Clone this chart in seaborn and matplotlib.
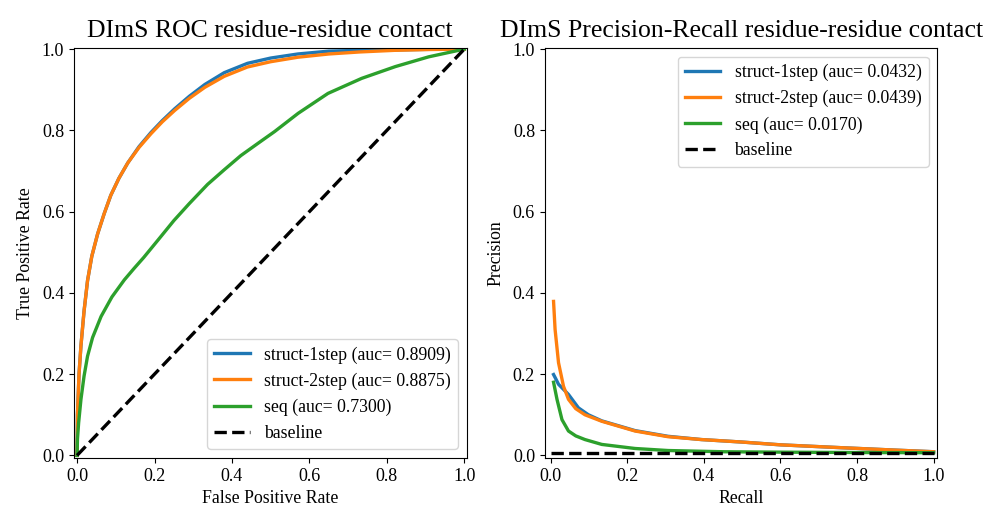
import matplotlib
matplotlib.use("Agg")
import matplotlib.pyplot as plt
import seaborn as sns
import pandas as pd

# ---- ROC data ----
roc_fpr_s1 = [0, 0.001, 0.005, 0.01, 0.018, 0.027, 0.038, 0.053, 0.07, 0.087, 0.108, 0.131, 0.16, 0.191, 0.22,
              0.252, 0.29, 0.33, 0.38, 0.44, 0.5, 0.57, 0.65, 0.73, 0.82, 0.91, 1.0]
roc_tpr_s1 = [0, 0.10, 0.20, 0.27, 0.355, 0.43, 0.49, 0.545, 0.595, 0.64, 0.682, 0.72, 0.76, 0.795, 0.824,
              0.853, 0.884, 0.913, 0.942, 0.965, 0.978, 0.988, 0.995, 0.997, 0.998, 0.9995, 1.0]
roc_fpr_s2 = [0, 0.001, 0.005, 0.01, 0.018, 0.027, 0.038, 0.053, 0.07, 0.087, 0.108, 0.131, 0.16, 0.191, 0.22,
              0.252, 0.29, 0.33, 0.38, 0.44, 0.5, 0.57, 0.65, 0.73, 0.82, 0.91, 1.0]
roc_tpr_s2 = [0, 0.10, 0.20, 0.27, 0.355, 0.43, 0.49, 0.545, 0.595, 0.64, 0.682, 0.72, 0.758, 0.792, 0.821,
              0.849, 0.879, 0.906, 0.933, 0.956, 0.969, 0.98, 0.988, 0.993, 0.997, 0.999, 1.0]
roc_fpr_seq = [0, 0.001, 0.004, 0.01, 0.018, 0.027, 0.04, 0.062, 0.09, 0.122, 0.147, 0.172, 0.209, 0.25, 0.29, 0.337,
               0.38, 0.423, 0.47, 0.51, 0.571, 0.648, 0.735, 0.822, 0.908, 1.0]
roc_tpr_seq = [0, 0.04, 0.08, 0.138, 0.195, 0.244, 0.29, 0.342, 0.39, 0.432, 0.46, 0.487, 0.53, 0.578, 0.62, 0.667,
               0.703, 0.738, 0.77, 0.797, 0.842, 0.891, 0.928, 0.957, 0.981, 1.0]
roc_base_x = [0, 1]
roc_base_y = [0, 1]

# ---- Precision-Recall data ----
pr_rec_s1 = [0.007, 0.012, 0.02, 0.046, 0.072, 0.098, 0.133, 0.22, 0.306, 0.393, 0.497, 0.6, 0.758, 0.9, 1.0]
pr_prec_s1 = [0.199, 0.19, 0.175, 0.15, 0.117, 0.10, 0.085, 0.061, 0.047, 0.039, 0.033, 0.026, 0.019, 0.013, 0.009]
pr_rec_s2 = [0.007, 0.011, 0.02, 0.033, 0.046, 0.065, 0.089, 0.133, 0.22, 0.306, 0.393, 0.497, 0.6, 0.758, 0.9, 1.0]
pr_prec_s2 = [0.379, 0.31, 0.228, 0.17, 0.138, 0.115, 0.10, 0.084, 0.06, 0.046, 0.039, 0.033, 0.026, 0.019, 0.013, 0.009]
pr_rec_seq = [0.007, 0.016, 0.029, 0.046, 0.065, 0.089, 0.133, 0.22, 0.306, 0.45, 0.6, 0.8, 1.0]
pr_prec_seq = [0.18, 0.138, 0.088, 0.06, 0.048, 0.039, 0.027, 0.017, 0.012, 0.009, 0.008, 0.007, 0.0066]
pr_base_x = [0, 1]
pr_base_y = [0.0066, 0.0066]

roc_labels = ["struct-1step (auc= 0.8909)", "struct-2step (auc= 0.8875)", "seq (auc= 0.7300)"]
pr_labels = ["struct-1step (auc= 0.0432)", "struct-2step (auc= 0.0439)", "seq (auc= 0.0170)"]
colors = ["#1f77b4", "#ff7f0e", "#2ca02c"]

plt.rcParams["font.family"] = ["Liberation Serif", "DejaVu Serif"]
plt.rcParams["mathtext.fontset"] = "stix"

fig, axes = plt.subplots(1, 2, figsize=(9.93, 5.15), dpi=100)
fig.subplots_adjust(left=0.0745, right=0.944, top=0.907, bottom=0.111, wspace=0.199)


def long_df(xs, ys, labels):
    frames = []
    for x, y, lab in zip(xs, ys, labels):
        frames.append(pd.DataFrame({"x": x, "y": y, "series": lab}))
    return pd.concat(frames, ignore_index=True)


roc_df = long_df([roc_fpr_s1, roc_fpr_s2, roc_fpr_seq], [roc_tpr_s1, roc_tpr_s2, roc_tpr_seq], roc_labels)
pr_df = long_df([pr_rec_s1, pr_rec_s2, pr_rec_seq], [pr_prec_s1, pr_prec_s2, pr_prec_seq], pr_labels)

LW = 2.4
FS = 12.8
TFS = 18.5

ax = axes[0]
sns.lineplot(data=roc_df, x="x", y="y", hue="series", palette=colors, sort=False,
             estimator=None, units="series", lw=LW, ax=ax)
ax.plot(roc_base_x, roc_base_y, "k--", lw=LW, label="baseline")
ax.set_xlim(-0.008, 1.006)
ax.set_ylim(-0.006, 1.003)
ax.set_xlabel("False Positive Rate", fontsize=FS)
ax.set_ylabel("True Positive Rate", fontsize=FS, labelpad=6)
ax.set_title("DImS ROC residue-residue contact", fontsize=TFS, pad=8)
ax.legend(loc="lower right", fontsize=FS)

ax = axes[1]
sns.lineplot(data=pr_df, x="x", y="y", hue="series", palette=colors, sort=False,
             estimator=None, units="series", lw=LW, ax=ax)
ax.plot(pr_base_x, pr_base_y, "k--", lw=LW, label="baseline")
ax.set_xlim(-0.016, 1.01)
ax.set_ylim(-0.006, 1.003)
ax.set_xlabel("Recall", fontsize=FS)
ax.set_ylabel("Precision", fontsize=FS, labelpad=6)
ax.set_title("DImS Precision-Recall residue-residue contact", fontsize=TFS, pad=8)
ax.legend(loc="upper right", fontsize=FS)

for a in axes:
    a.tick_params(labelsize=13)
    a.set_xticks([0, 0.2, 0.4, 0.6, 0.8, 1.0])
    a.set_yticks([0, 0.2, 0.4, 0.6, 0.8, 1.0])

fig.savefig("out.png", dpi=100)
